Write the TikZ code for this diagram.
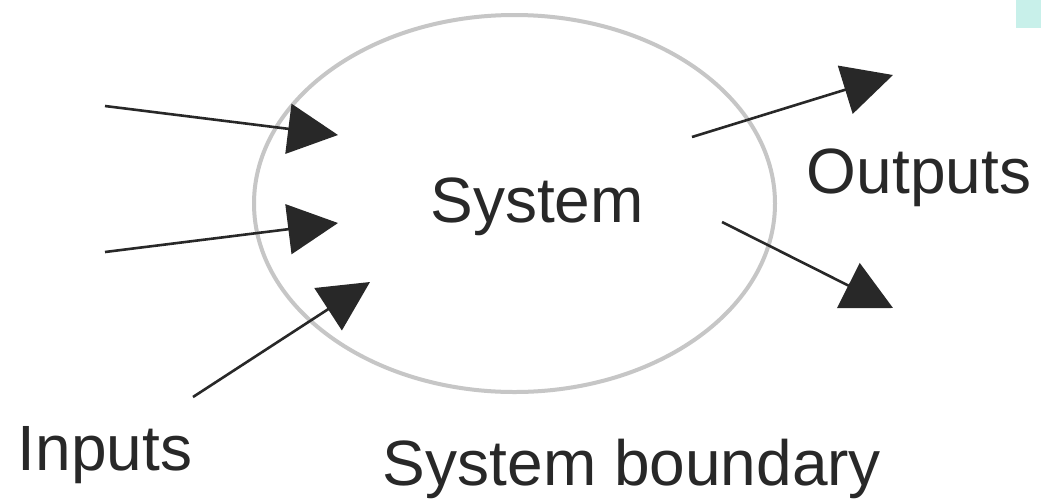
\documentclass[tikz,border=0pt]{standalone}
\usepackage{fontspec}
\setmainfont{Liberation Sans}
\usetikzlibrary{arrows.meta,shapes.geometric}
\definecolor{rimgray}{RGB}{198,198,198}
\definecolor{inkdark}{RGB}{40,40,40}
\definecolor{cornertint}{RGB}{200,240,234}
\tikzset{
  flow/.style={draw=inkdark, line width=2.6pt,
    -{Triangle[length=50pt,width=50pt]}, fill=none},
  label/.style={text=inkdark, inner sep=0pt, anchor=base,
    font=\fontsize{64}{76}\selectfont},
}
\begin{document}
\begin{tikzpicture}[x=1pt,y=-1pt]
  \useasboundingbox (0,0) rectangle (1041,499);
  \fill[white] (0,0) rectangle (1041,499);
  % small tinted patch in the upper right corner
  \fill[cornertint] (1016,0) rectangle (1041,28);

  % system boundary
  \node[draw=rimgray, line width=4pt, ellipse, minimum width=521pt,
        minimum height=377pt, inner sep=0pt] (boundary) at (514.5,203.5) {};

  % labels
  \node[label] (system) at (537,222) {System};
  \node[label] (outputs) at (919,193) {Outputs};
  \node[label] (inputs) at (105,470) {Inputs};
  \node[label] (bname) at (632,485) {System boundary};

  % connector end points
  \coordinate (in1s) at (105,106);
  \coordinate (in1e) at (338,135);
  \coordinate (in2s) at (105,252);
  \coordinate (in2e) at (338,223);
  \coordinate (in3s) at (193,397);
  \coordinate (in3e) at (370,282);
  \coordinate (out1s) at (692,137);
  \coordinate (out1e) at (893,75);
  \coordinate (out2s) at (722,222);
  \coordinate (out2e) at (893,308);

  % inputs
  \draw[flow] (in1s) -- (in1e);
  \draw[flow] (in2s) -- (in2e);
  \draw[flow] (in3s) -- (in3e);
  % outputs
  \draw[flow] (out1s) -- (out1e);
  \draw[flow] (out2s) -- (out2e);
\end{tikzpicture}
\end{document}
